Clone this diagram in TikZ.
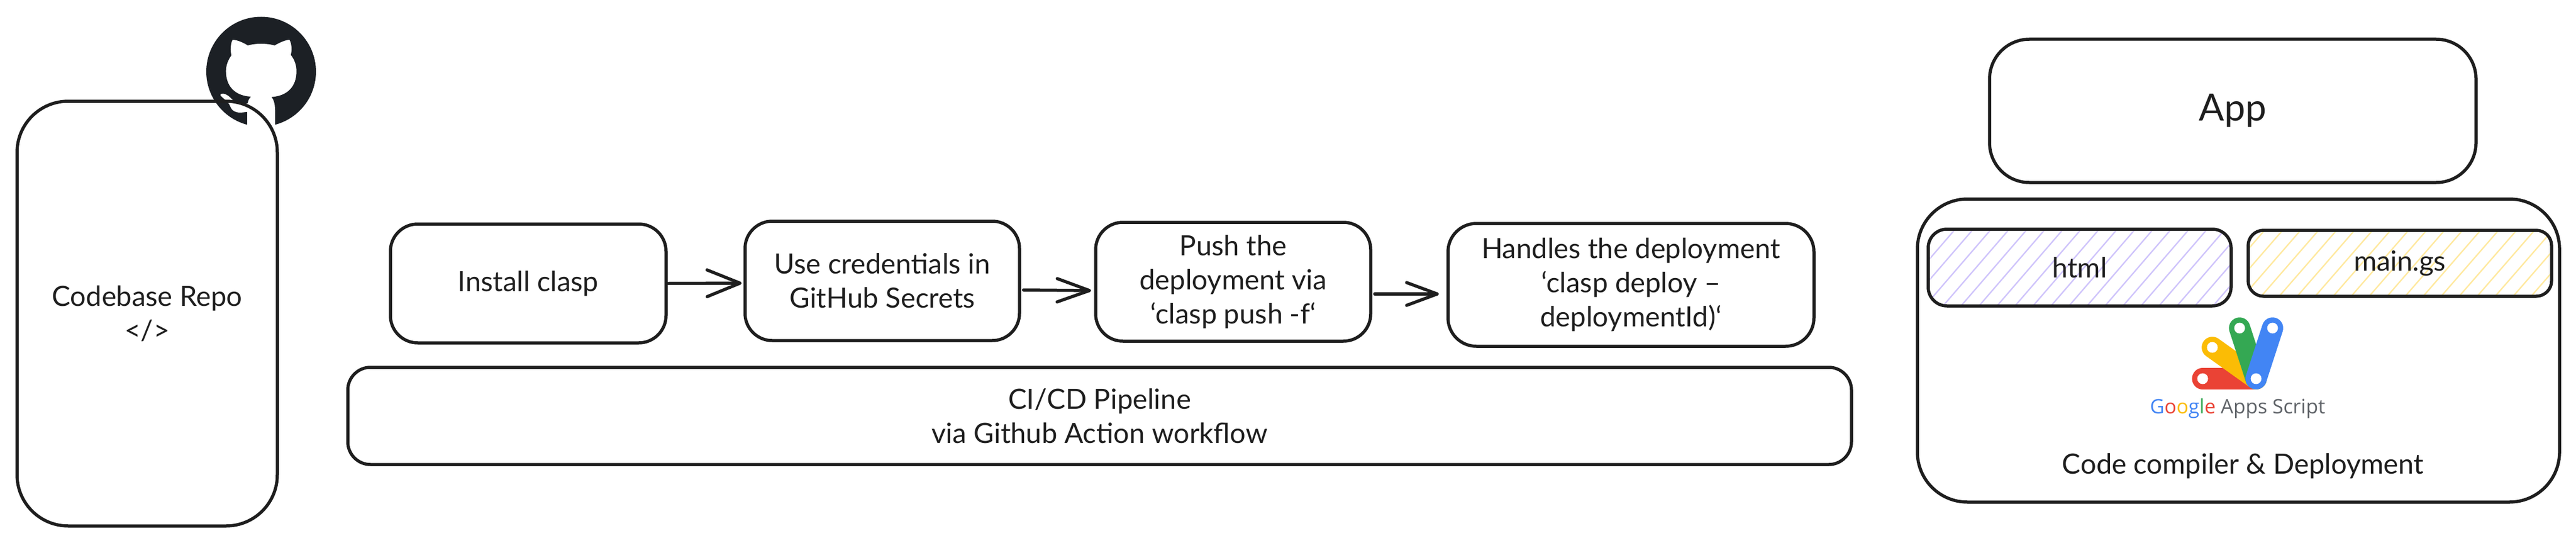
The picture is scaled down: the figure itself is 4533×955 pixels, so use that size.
\documentclass[tikz,border=0pt]{standalone}
\usepackage{fontspec}
\setmainfont{Lato}
\newfontfamily\googlefont{Open Sans}
\usetikzlibrary{arrows.meta}
\definecolor{ink}{HTML}{1E1E1E}
\definecolor{octo}{HTML}{1C2025}
\definecolor{hatchviolet}{HTML}{CFC4FB}
\definecolor{hatchyellow}{HTML}{FFE99F}
\definecolor{gblue}{HTML}{4285F4}
\definecolor{ggreen}{HTML}{34A853}
\definecolor{gyellow}{HTML}{FBBC05}
\definecolor{gred}{HTML}{EA4335}
\definecolor{ggray}{HTML}{5F6368}
\tikzset{
  x=1pt,y=-1pt,
  base/.style={inner sep=0pt,outer sep=0pt,text=ink,align=center,font=\fontsize{49}{60}\selectfont},
  card/.style={base,draw=ink,line width=5.5pt},
  flow/.style={draw=ink,line width=5.5pt,line cap=round},
  petal/.style={line width=37.5pt,line cap=round},
  hatch/.style={line width=2.4pt}
}
\begin{document}
\begin{tikzpicture}
\useasboundingbox (0,0) rectangle (4533,955);
\fill[white] (0,0) rectangle (4533,955);

% Octocat
\fill[octo] (459.5,126) circle (96.5);
\begin{scope}[shift={(350pt,-20pt)},x=.33333pt,y=-.33333pt]
\fill[white] (178,150) .. controls (200,150) and (235,165) .. (258,180)
 .. controls (300,168) and (358,168) .. (400,180)
 .. controls (425,165) and (460,150) .. (478,150)
 .. controls (490,170) and (492,205) .. (485,230)
 .. controls (505,255) and (515,285) .. (515,315)
 .. controls (515,395) and (470,445) .. (383,452)
 .. controls (395,465) and (402,490) .. (402,520)
 -- (402,650) -- (255,650) -- (255,530)
 .. controls (235,533) and (215,536) .. (200,532)
 .. controls (180,527) and (170,515) .. (165,500)
 .. controls (155,475) and (135,465) .. (118,448)
 .. controls (105,435) and (125,430) .. (140,437)
 .. controls (160,445) and (175,465) .. (185,475)
 .. controls (205,490) and (235,490) .. (258,485)
 .. controls (260,470) and (265,460) .. (275,450)
 .. controls (190,445) and (143,395) .. (143,315)
 .. controls (143,285) and (155,255) .. (172,232)
 .. controls (165,205) and (167,170) .. (178,150) -- cycle;
\end{scope}

% Hatching
\begin{scope}
\clip[rounded corners=33pt] (3393,403) rectangle (3926,538);
\foreach \n in {-2,...,20}
  \draw[hatch,hatchviolet] ({3438.3+31.67*\n+.863*2.7},403) ++(0,0) -- ++({-.863*140},140);
\end{scope}
\begin{scope}
\clip[rounded corners=27pt] (3956,405) rectangle (4490,521);
\foreach \n in {-1,...,20}
  \draw[hatch,hatchyellow] ({3950+31.67*\n+.87*3+.7},405) -- ++({-.87*120},120);
\end{scope}

% Boxes
\node[card,rounded corners=90pt,minimum width=458pt,minimum height=747pt] (repo) at (259,551.5) {Codebase Repo\\</>};
\node[card,rounded corners=48pt,minimum width=485pt,minimum height=209pt] (install) at (929.5,498.5) {Install clasp};
\node[card,rounded corners=48pt,minimum width=483pt,minimum height=210pt] (creds) at (1552.5,494) {Use credentials in\\GitHub Secrets};
\node[card,rounded corners=48pt,minimum width=484pt,minimum height=209pt] (push) at (2170,495.5) {Push the\\deployment via\\`clasp push -f`};
\node[card,rounded corners=50pt,minimum width=644pt,minimum height=216pt] (handles) at (2870,501) {Handles the deployment\\`clasp deploy --\\deploymentId)`};
\node[card,rounded corners=40pt,minimum width=2646pt,minimum height=171pt] (cicd) at (1935,731.5) {CI/CD Pipeline\\via Github Action workflow};
\node[card,rounded corners=70pt,minimum width=856pt,minimum height=252pt,font=\fontsize{66}{80}\selectfont] (app) at (3929,195) {App};
\node[card,rounded corners=88pt,minimum width=1130pt,minimum height=533pt] (outer) at (3939,616.5) {};
\node[card,rounded corners=33pt,minimum width=533pt,minimum height=135pt] (html) at (3659.5,470.5) {html};
\node[card,rounded corners=27pt,minimum width=534pt,minimum height=116pt] (maings) at (4223,463) {main.gs};
\node[base] (compiler) at (3947,820) {Code compiler \& Deployment};

% Arrows
\draw[flow,-{Straight Barb[round,length=58pt,width=47pt]}] ([xshift=4pt]install.east) -- ([xshift=-6pt,yshift=-4pt]creds.west);
\draw[flow,-{Straight Barb[round,length=57pt,width=41pt]}] ([xshift=7pt,yshift=-16pt]creds.east) -- ([xshift=-8pt,yshift=-15.5pt]push.west);
\draw[flow,-{Straight Barb[round,length=54pt,width=40pt]}] ([xshift=7pt,yshift=-21.5pt]push.east) -- ([xshift=-16pt,yshift=-16pt]handles.west);

% Google Apps Script logo
\draw[petal,gred] (3876,666) -- (3970,666);
\draw[petal,gyellow] (3893,611) -- (3970,666);
\draw[petal,ggreen] (3941,577) -- (3970,666);
\draw[petal,gblue] (3999,577) -- (3970,666);
\fill[white] (3876,666) circle (9.5) (3893,611) circle (9.5) (3941,577) circle (9.5) (3999,577) circle (9.5) (3970,666) circle (9.5);
\node[anchor=base,inner sep=0pt,font=\googlefont\fontsize{35}{40}\selectfont] (gas) at (3937.5,727)
 {\textcolor{gblue}{G}\textcolor{gred}{o}\textcolor{gyellow}{o}\textcolor{gblue}{g}\textcolor{ggreen}{l}\textcolor{gred}{e} \textcolor{ggray}{Apps Script}};
\end{tikzpicture}
\end{document}
